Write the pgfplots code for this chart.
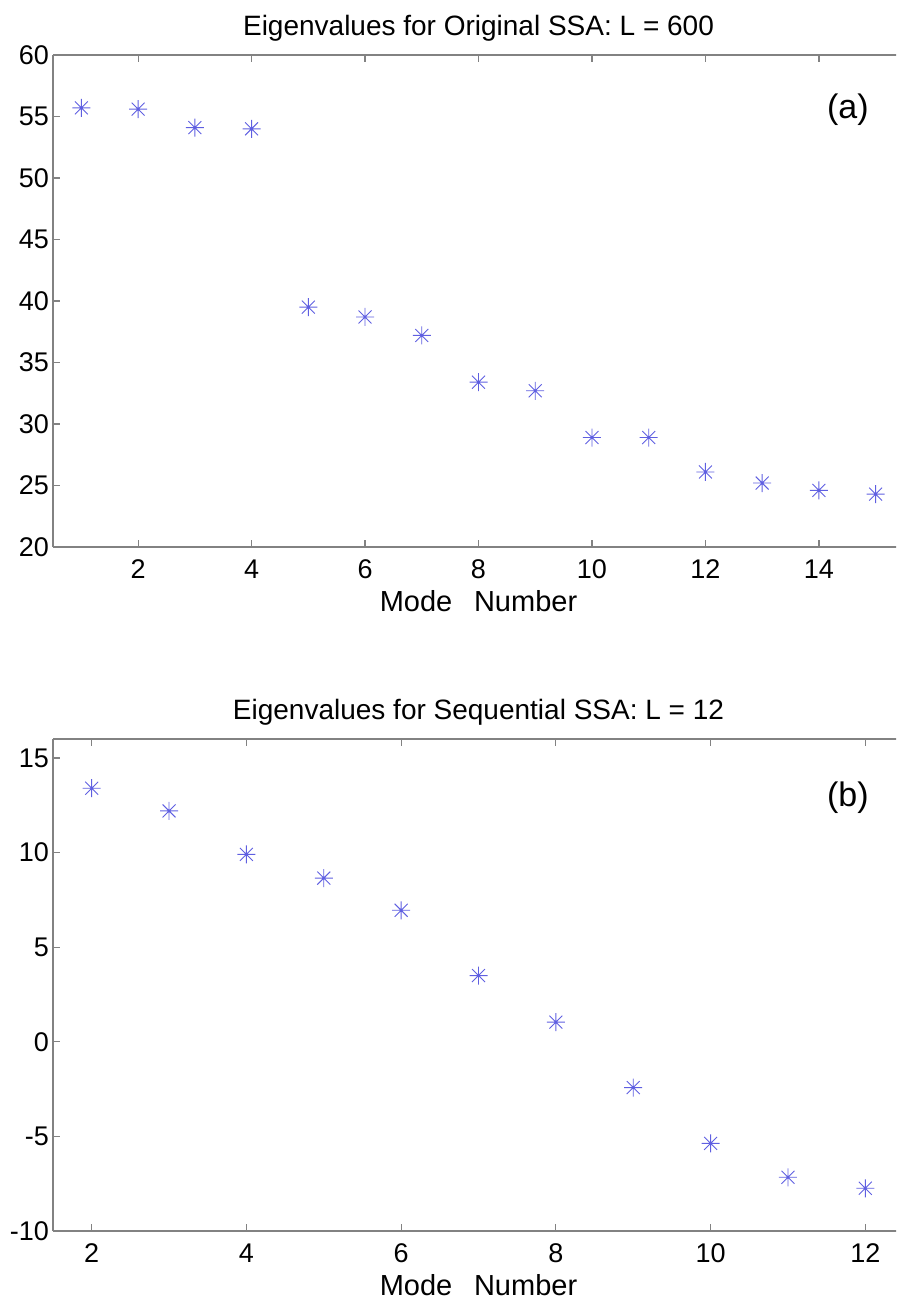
\documentclass[border=0pt]{standalone}
\usepackage{fontspec}
\setmainfont{Liberation Sans}
\usepackage{pgfplots}
\pgfplotsset{compat=1.18}

\definecolor{mkblue}{RGB}{95,95,225}
\definecolor{axgrey}{RGB}{130,130,130}

% MATLAB style '*' marker: plus and cross together
\pgfdeclareplotmark{mstar}{%
  \pgfpathmoveto{\pgfqpoint{-\pgfplotmarksize}{0pt}}%
  \pgfpathlineto{\pgfqpoint{\pgfplotmarksize}{0pt}}%
  \pgfpathmoveto{\pgfqpoint{0pt}{-\pgfplotmarksize}}%
  \pgfpathlineto{\pgfqpoint{0pt}{\pgfplotmarksize}}%
  \pgfpathmoveto{\pgfqpoint{-.72\pgfplotmarksize}{-.72\pgfplotmarksize}}%
  \pgfpathlineto{\pgfqpoint{.72\pgfplotmarksize}{.72\pgfplotmarksize}}%
  \pgfpathmoveto{\pgfqpoint{-.72\pgfplotmarksize}{.72\pgfplotmarksize}}%
  \pgfpathlineto{\pgfqpoint{.72\pgfplotmarksize}{-.72\pgfplotmarksize}}%
  \pgfusepathqstroke
  \pgfpathcircle{\pgfpointorigin}{0.45pt}%
  \pgfusepathqfill
}

\pgfplotsset{
  ssa/.style={
    scale only axis,
    width=425.5pt, height=246pt,
    % right side of the figure is cut off in the original
    axis x line*=box, axis y line*=left,
    axis line style={axgrey, line width=0.6pt},
    tick style={axgrey, line width=0.6pt},
    major tick length=3.5pt,
    tick align=inside,
    tick label style={black, font=\fontsize{13.5}{16}\selectfont},
    xticklabel style={anchor=base, yshift=-15.5pt},
    yticklabel style={xshift=1.5pt},
    /pgf/number format/assume math mode=true,
    title style={font=\fontsize{14}{16}\selectfont, inner sep=0pt, at={(0.5,1)}, anchor=base, yshift=4pt},
    xlabel style={font=\fontsize{14.5}{16}\selectfont, inner sep=0pt, at={(0.5,0)}, anchor=base, yshift=-32pt},
    xlabel={Mode\hspace{0.75em}Number},
  },
  eig/.style={only marks, mark=mstar, mark size=4.5pt, mkblue, line width=0.45pt},
}

\begin{document}
\begin{tikzpicture}[trim left=0pt, trim right=448pt]
\clip (0,0) rectangle (448pt,-649.5pt);

\begin{axis}[ssa,
  at={(26.5pt,-273.5pt)}, anchor=south west,
  title={Eigenvalues for Original SSA: L = 600},
  xmin=0.5, xmax=15.5, ymin=20, ymax=60,
  xtick={2,4,...,14}, ytick={20,25,...,60},
]
\addplot[eig] coordinates {
  (1,55.7) (2,55.6) (3,54.1) (4,54.0) (5,39.5)
  (6,38.7) (7,37.2) (8,33.4) (9,32.7) (10,28.9)
  (11,28.9) (12,26.1) (13,25.2) (14,24.6) (15,24.3)
};
\node[font=\fontsize{17}{19}\selectfont] at (rel axis cs:0.934,0.888) {(a)};
\end{axis}

\begin{axis}[ssa,
  at={(26.5pt,-615.5pt)}, anchor=south west,
  title={Eigenvalues for Sequential SSA: L = 12},
  xmin=1.5, xmax=12.5, ymin=-10, ymax=16,
  xtick={2,4,...,12}, ytick={-10,-5,...,15},
]
\addplot[eig] coordinates {
  (2,13.4) (3,12.2) (4,9.9) (5,8.65) (6,6.95)
  (7,3.5) (8,1.04) (9,-2.42) (10,-5.37) (11,-7.16) (12,-7.74)
};
\node[font=\fontsize{17}{19}\selectfont] at (rel axis cs:0.934,0.88) {(b)};
\end{axis}
\end{tikzpicture}
\end{document}
